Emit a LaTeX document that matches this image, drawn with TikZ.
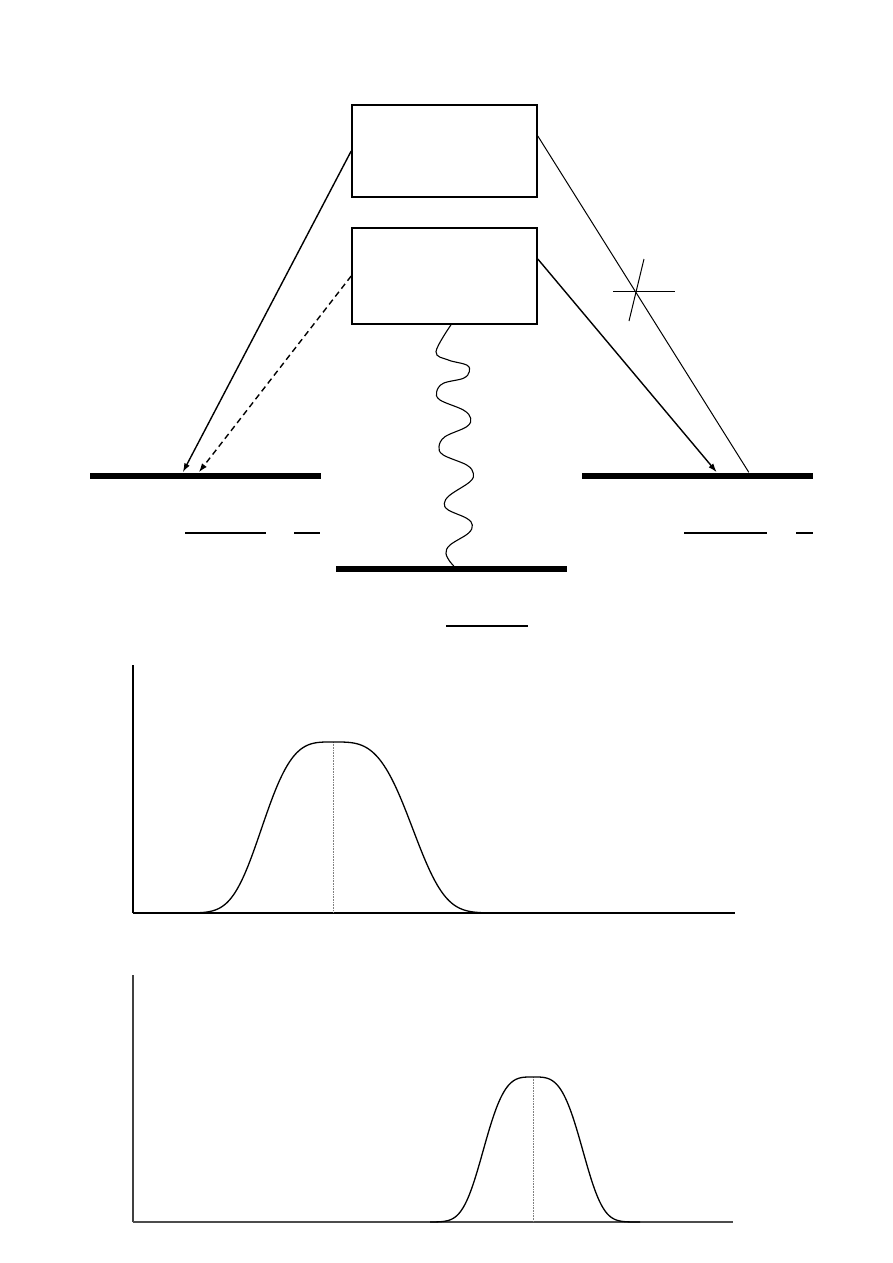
\documentclass[tikz,border=0pt]{standalone}
\usetikzlibrary{arrows.meta,calc}
\begin{document}
\begin{tikzpicture}[x=1pt,y=-1pt,
  box/.style={draw, line width=1.6pt, minimum width=185pt, inner sep=0pt},
  level/.style={fill=black, inner sep=0pt, minimum height=6pt, minimum width=231pt},
  trans/.style={line width=1.4pt, -{Latex[length=9pt,width=6pt]}},
  dtrans/.style={trans, dash pattern=on 6pt off 4pt},
  thinline/.style={line width=1pt},
  uline/.style={line width=1.5pt},
  axis/.style={line width=1.8pt},
  curve/.style={line width=1.3pt},
  peakline/.style={gray, densely dotted, line width=0.6pt}
]
\fill[white] (0,0) rectangle (893,1263);
\useasboundingbox (0,0) rectangle (893,1263);

% boxes
\node[box, minimum height=92pt] (box1) at (444.5,151) {};
\node[box, minimum height=96pt] (box2) at (444.5,276) {};

% levels
\node[level] (lvlL) at (205.5,475.5) {};
\node[level] (lvlR) at (697.5,475.5) {};
\node[level] (lvlB) at (451.5,569) {};

% connector anchor points
\coordinate (b1r) at ([yshift=15pt]box1.east);
\coordinate (b2r) at ([yshift=17pt]box2.east);
\coordinate (b2s) at ([xshift=6.5pt]box2.south);
\coordinate (tL1) at ([xshift=93pt]lvlL.north west);
\coordinate (tL2) at ([xshift=109pt]lvlL.north west);
\coordinate (tR1) at ([xshift=135pt]lvlR.north west);
\coordinate (tR2) at ([xshift=167pt]lvlR.north west);
\coordinate (bB) at ([xshift=118pt]lvlB.north west);

% transitions
\draw[trans] (box1.west) -- (tL1);
\draw[dtrans] (box2.west) -- (tL2);
\draw[trans] (b2r) -- (tR1);
\draw[thinline] (b1r) -- (tR2);

% cross on the forbidden transition
\coordinate (cA) at (613,291);
\coordinate (cB) at (675,291);
\coordinate (cC) at (644,259);
\coordinate (cD) at (629,321);
\draw[thinline] (cA) -- (cB);
\draw[thinline] (cC) -- (cD);

% wavy non-radiative line
\draw[line width=1.1pt] plot[smooth, tension=0.6] coordinates {
  (b2s) (436,351.7) (448.3,360) (466.7,365) (469.3,371.7) (463.3,378.3)
  (443.3,383.3) (436.7,391.7) (440,400) (463.3,410) (470.7,418.3)
  (466.7,426.7) (445,436.7) (439,446.7) (443.3,455) (466.7,465)
  (473.3,473.3) (470,481.7) (450,495) (444.3,503.3) (448.3,510)
  (466.7,518.3) (472.3,525) (468.3,533.3) (450,545) (446,553.3)
  (450,561.7) (bB)};

% underlines
\coordinate (u1a) at (185,533); \coordinate (u1b) at (266,533);
\coordinate (u2a) at (294,533); \coordinate (u2b) at (320,533);
\coordinate (u3a) at (684,533); \coordinate (u3b) at (767,533);
\coordinate (u4a) at (796,533); \coordinate (u4b) at (813,533);
\coordinate (u5a) at (446,626); \coordinate (u5b) at (528,626);
\draw[uline] (u1a) -- (u1b);
\draw[uline] (u2a) -- (u2b);
\draw[uline] (u3a) -- (u3b);
\draw[uline] (u4a) -- (u4b);
\draw[uline] (u5a) -- (u5b);

% first plot
\coordinate (o1) at (133,913);
\coordinate (y1) at (133,665);
\coordinate (x1) at (735,913);
\draw[line width=1.5pt] (o1) -- (y1);
\draw[axis] (o1) -- (x1);
\draw[peakline] (333,742) -- (333,913);
\draw[curve] plot[domain=185:333, samples=90] (\x,{913-171*exp(-((333.001-\x)/79)^3.5)})
  -- plot[domain=333:485, samples=90] (\x,{913-171*exp(-((\x-332.999)/88)^3.5)});

% second plot
\coordinate (o2) at (133,1222);
\coordinate (y2) at (133,975);
\coordinate (x2) at (733,1222);
\draw[line width=1.5pt, black!75] (o2) -- (y2);
\draw[axis, black!70] (o2) -- (x2);
\draw[peakline] (533,1077) -- (533,1222);
\draw[curve] plot[domain=430:533, samples=80] (\x,{1222-145*exp(-((533.001-\x)/55)^3.5)})
  -- plot[domain=533:640, samples=80] (\x,{1222-145*exp(-((\x-532.999)/55)^3.5)});
\end{tikzpicture}
\end{document}
